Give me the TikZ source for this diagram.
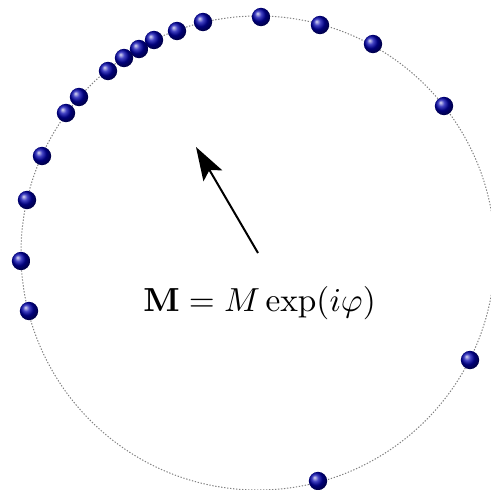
\documentclass[tikz,border=0pt]{standalone}
\usepackage{amsmath}
\usetikzlibrary{arrows.meta}
\tikzset{
  spin/.style={circle, inner sep=0pt, minimum size=5.5pt, shading=ball, ball color=blue!68!black},
  orbit/.style={gray, dash pattern=on 0.4pt off 0.5pt, line width=0.3pt},
  magarrow/.style={-{Stealth[length=10pt,width=6.5pt,inset=2pt]}, line width=0.6pt}
}
\begin{document}
\begin{tikzpicture}[x=0.3pt,y=-0.3pt]
\useasboundingbox (0,0) rectangle (491,490);
\begin{scope}
\clip (0,0) rectangle (491,490);
\coordinate (c) at (258,253);
\draw[orbit] (c) circle[radius=237*0.3pt];
\end{scope}
\foreach \x/\y [count=\i] in {203/22,177/31,154/40,139/49,124/58,108/71,79/97,66/113,42/156,27/200,21/261,29/311,261/17,320/25,373/44,444/106,470/360,318/481}
  \node[spin] (s\i) at (\x,\y) {};
\coordinate (tip) at (196,147);
\draw[magarrow] (c) -- (tip);
\node[anchor=base, inner sep=0pt] (lab) at (259.5,312) {$\mathbf{M} = M\exp(i\varphi)$};
\end{tikzpicture}
\end{document}
